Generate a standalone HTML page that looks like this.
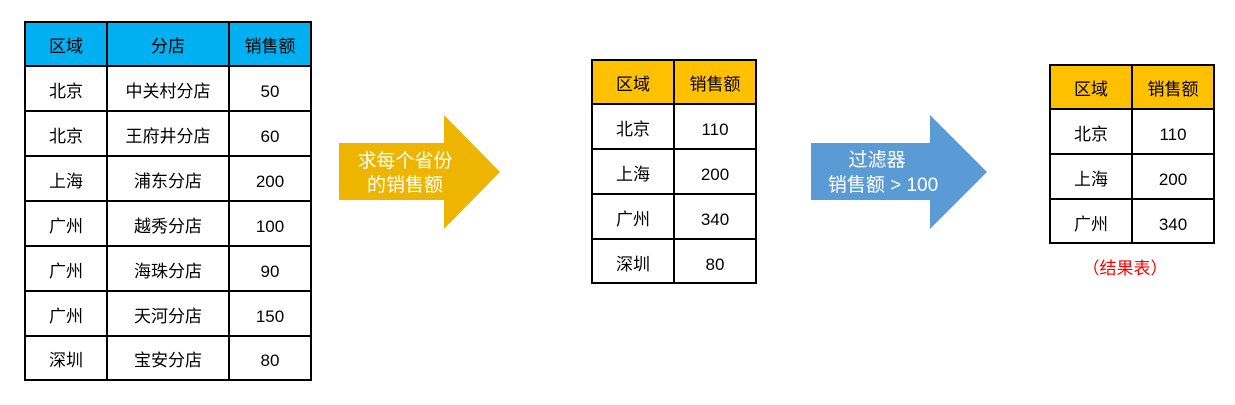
<!DOCTYPE html>
<html><head><meta charset="utf-8"><style>
body{margin:0;width:1235px;height:400px;background:#fff;overflow:hidden}
</style></head><body>
<svg width="1235" height="400" xmlns="http://www.w3.org/2000/svg" font-family="Liberation Sans, Noto Sans CJK SC, sans-serif" font-size="17" text-anchor="middle">
<rect x="25" y="22" width="286" height="44" fill="#00B0F0"/>
<g stroke="#000" stroke-width="2" fill="none">
<rect x="25" y="22" width="286" height="358"/>
<line x1="107" y1="22" x2="107" y2="380"/><line x1="229" y1="22" x2="229" y2="380"/>
<line x1="25" y1="66" x2="311" y2="66"/><line x1="25" y1="111" x2="311" y2="111"/>
<line x1="25" y1="156" x2="311" y2="156"/><line x1="25" y1="201" x2="311" y2="201"/>
<line x1="25" y1="246" x2="311" y2="246"/><line x1="25" y1="291" x2="311" y2="291"/>
<line x1="25" y1="336" x2="311" y2="336"/>
</g>
<g fill="#000">
<text x="66" y="52">区域</text><text x="168" y="52">分店</text><text x="270" y="52">销售额</text>
<text x="66" y="97">北京</text><text x="168" y="97">中关村分店</text><text x="270" y="97">50</text>
<text x="66" y="142">北京</text><text x="168" y="142">王府井分店</text><text x="270" y="142">60</text>
<text x="66" y="187">上海</text><text x="168" y="187">浦东分店</text><text x="270" y="187">200</text>
<text x="66" y="232">广州</text><text x="168" y="232">越秀分店</text><text x="270" y="232">100</text>
<text x="66" y="277">广州</text><text x="168" y="277">海珠分店</text><text x="270" y="277">90</text>
<text x="66" y="322">广州</text><text x="168" y="322">天河分店</text><text x="270" y="322">150</text>
<text x="66" y="366">深圳</text><text x="168" y="366">宝安分店</text><text x="270" y="366">80</text>
</g>
<polygon points="339,143 444,143 444,115 500,172 444,229 444,200 339,200" fill="#EEB500"/>
<text x="405" y="167" fill="#fff" font-size="19">求每个省份</text><text x="405" y="191" fill="#fff" font-size="19">的销售额</text>
<rect x="592" y="60" width="164" height="44" fill="#FFC000"/>
<g stroke="#000" stroke-width="2" fill="none">
<rect x="592" y="60" width="164" height="223"/>
<line x1="674" y1="60" x2="674" y2="283"/>
<line x1="592" y1="104" x2="756" y2="104"/><line x1="592" y1="149" x2="756" y2="149"/>
<line x1="592" y1="194" x2="756" y2="194"/><line x1="592" y1="239" x2="756" y2="239"/>
</g>
<g fill="#000">
<text x="633" y="90">区域</text><text x="715" y="90">销售额</text>
<text x="633" y="135">北京</text><text x="715" y="135">110</text>
<text x="633" y="180">上海</text><text x="715" y="180">200</text>
<text x="633" y="225">广州</text><text x="715" y="225">340</text>
<text x="633" y="270">深圳</text><text x="715" y="270">80</text>
</g>
<polygon points="811,143 930,143 930,115 987,172 930,229 930,200 811,200" fill="#5B9BD5"/>
<text x="877" y="166" fill="#fff" font-size="19">过滤器</text><text x="883" y="191" fill="#fff" font-size="19">销售额 &gt; 100</text>
<rect x="1050" y="65" width="164" height="44" fill="#FFC000"/>
<g stroke="#000" stroke-width="2" fill="none">
<rect x="1050" y="65" width="164" height="178"/>
<line x1="1132" y1="65" x2="1132" y2="243"/>
<line x1="1050" y1="109" x2="1214" y2="109"/><line x1="1050" y1="154" x2="1214" y2="154"/>
<line x1="1050" y1="199" x2="1214" y2="199"/>
</g>
<g fill="#000">
<text x="1091" y="95">区域</text><text x="1173" y="95">销售额</text>
<text x="1091" y="140">北京</text><text x="1173" y="140">110</text>
<text x="1091" y="185">上海</text><text x="1173" y="185">200</text>
<text x="1091" y="230">广州</text><text x="1173" y="230">340</text>
</g>
<text x="1125" y="274" fill="#FF0000">（结果表）</text>
</svg>
</body></html>
